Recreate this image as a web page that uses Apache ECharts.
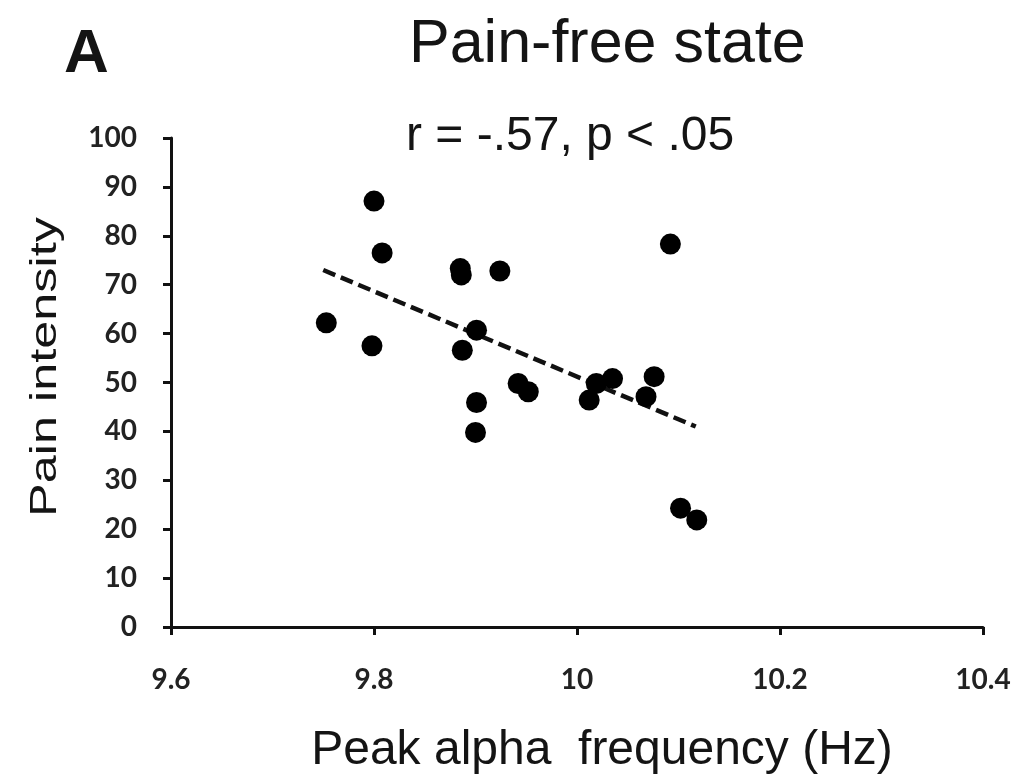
<!DOCTYPE html>
<html>

<head>
	<meta charset="utf-8">
	<title>Pain-free state</title>
	<script src="https://cdn.jsdelivr.net/npm/echarts@6/dist/echarts.min.js"></script>
	<style>
		html, body { margin: 0; padding: 0; background: #fff; }
		#chart { width: 1023px; height: 782px; }
	</style>
</head>

<body>
	<div id="chart"></div>
	<script>
		// peak alpha frequency (Hz) and pain intensity, one entry per subject
		var freqX = [9.800, 9.808, 9.885, 9.886, 9.924, 9.753, 9.798, 9.901, 9.887, 9.942, 9.952,
			9.901, 9.900, 10.092, 10.012, 10.019, 10.035, 10.076, 10.068, 10.102, 10.118];
		var painY = [87.1, 76.5, 73.3, 72.0, 72.8, 62.2, 57.5, 60.7, 56.6, 49.8, 48.1,
			45.9, 39.8, 78.3, 46.4, 49.8, 50.8, 51.2, 47.1, 24.3, 21.9];
		// regression line end points
		var trendX = [9.75, 10.117];
		var trendY = [73.0, 41.0];

		var xMin = 9.6, xMax = 10.4, xStep = 0.2;
		var yMin = 0, yMax = 100, yStep = 10;

		var points = [];
		for (var i = 0; i < freqX.length; i++)
			points.push([freqX[i], painY[i]]);
		var trend = [];
		for (var i = 0; i < trendX.length; i++)
			trend.push([trendX[i], trendY[i]]);

		var ink = '#141414';
		var sans = '"Liberation Sans", Arial, sans-serif';
		var tickFont = {
			fontFamily: 'Lato, "Open Sans", sans-serif',
			fontWeight: 'bold',
			fontSize: 28,
			color: '#222'
		};

		var chart = echarts.init(document.getElementById('chart'));
		chart.setOption({
			animation: false,
			backgroundColor: '#fff',
			title: [
				{
					text: 'A',
					left: 59,
					top: 19,
					textStyle: { fontFamily: sans, fontWeight: 'bold', fontSize: 62, color: ink }
				},
				{
					text: 'Pain-free state',
					left: 404,
					top: 10,
					textStyle: { fontFamily: sans, fontWeight: 'normal', fontSize: 61, color: ink }
				},
				{
					text: 'r = -.57, p < .05',
					left: 401,
					top: 108,
					textStyle: { fontFamily: sans, fontWeight: 'normal', fontSize: 48, color: ink }
				}
			],
			graphic: [
				{
					type: 'text',
					x: 46,
					y: 367,
					rotation: Math.PI / 2,
					scaleX: 1.4,
					style: {
						text: 'Pain intensity',
						fontFamily: sans,
						fontSize: 36,
						fill: ink,
						align: 'center',
						verticalAlign: 'middle'
					}
				}
			],
			grid: {
				left: 171,
				right: 40,
				top: 138,
				bottom: 155,
				containLabel: false,
				outerBoundsMode: 'none'
			},
			xAxis: {
				type: 'value',
				min: xMin,
				max: xMax,
				interval: xStep,
				name: 'Peak alpha  frequency (Hz)',
				nameLocation: 'middle',
				nameGap: 100,
				nameTextStyle: {
					fontFamily: sans,
					fontSize: 48,
					color: ink,
					padding: [0, 0, 0, 50]
				},
				axisLine: { onZero: false, lineStyle: { color: '#111', width: 3 } },
				axisTick: { inside: false, length: 8, lineStyle: { color: '#111', width: 3 } },
				axisLabel: Object.assign({
					margin: 39,
					formatter: function (v) { return String(Number(v.toFixed(1))); }
				}, tickFont),
				splitLine: { show: false }
			},
			yAxis: {
				type: 'value',
				min: yMin,
				max: yMax,
				interval: yStep,
				axisLine: { show: true, lineStyle: { color: '#111', width: 3 } },
				axisTick: { show: true, inside: false, length: 8, lineStyle: { color: '#111', width: 3 } },
				axisLabel: Object.assign({ margin: 34 }, tickFont),
				splitLine: { show: false }
			},
			series: [
				{
					type: 'line',
					data: trend,
					symbol: 'none',
					z: 1,
					lineStyle: { color: '#111', width: 4.5, type: [13, 6] }
				},
				{
					type: 'scatter',
					data: points,
					symbol: 'circle',
					symbolSize: 21,
					z: 2,
					itemStyle: { color: '#000', opacity: 1 }
				}
			]
		});
	</script>
</body>

</html>
